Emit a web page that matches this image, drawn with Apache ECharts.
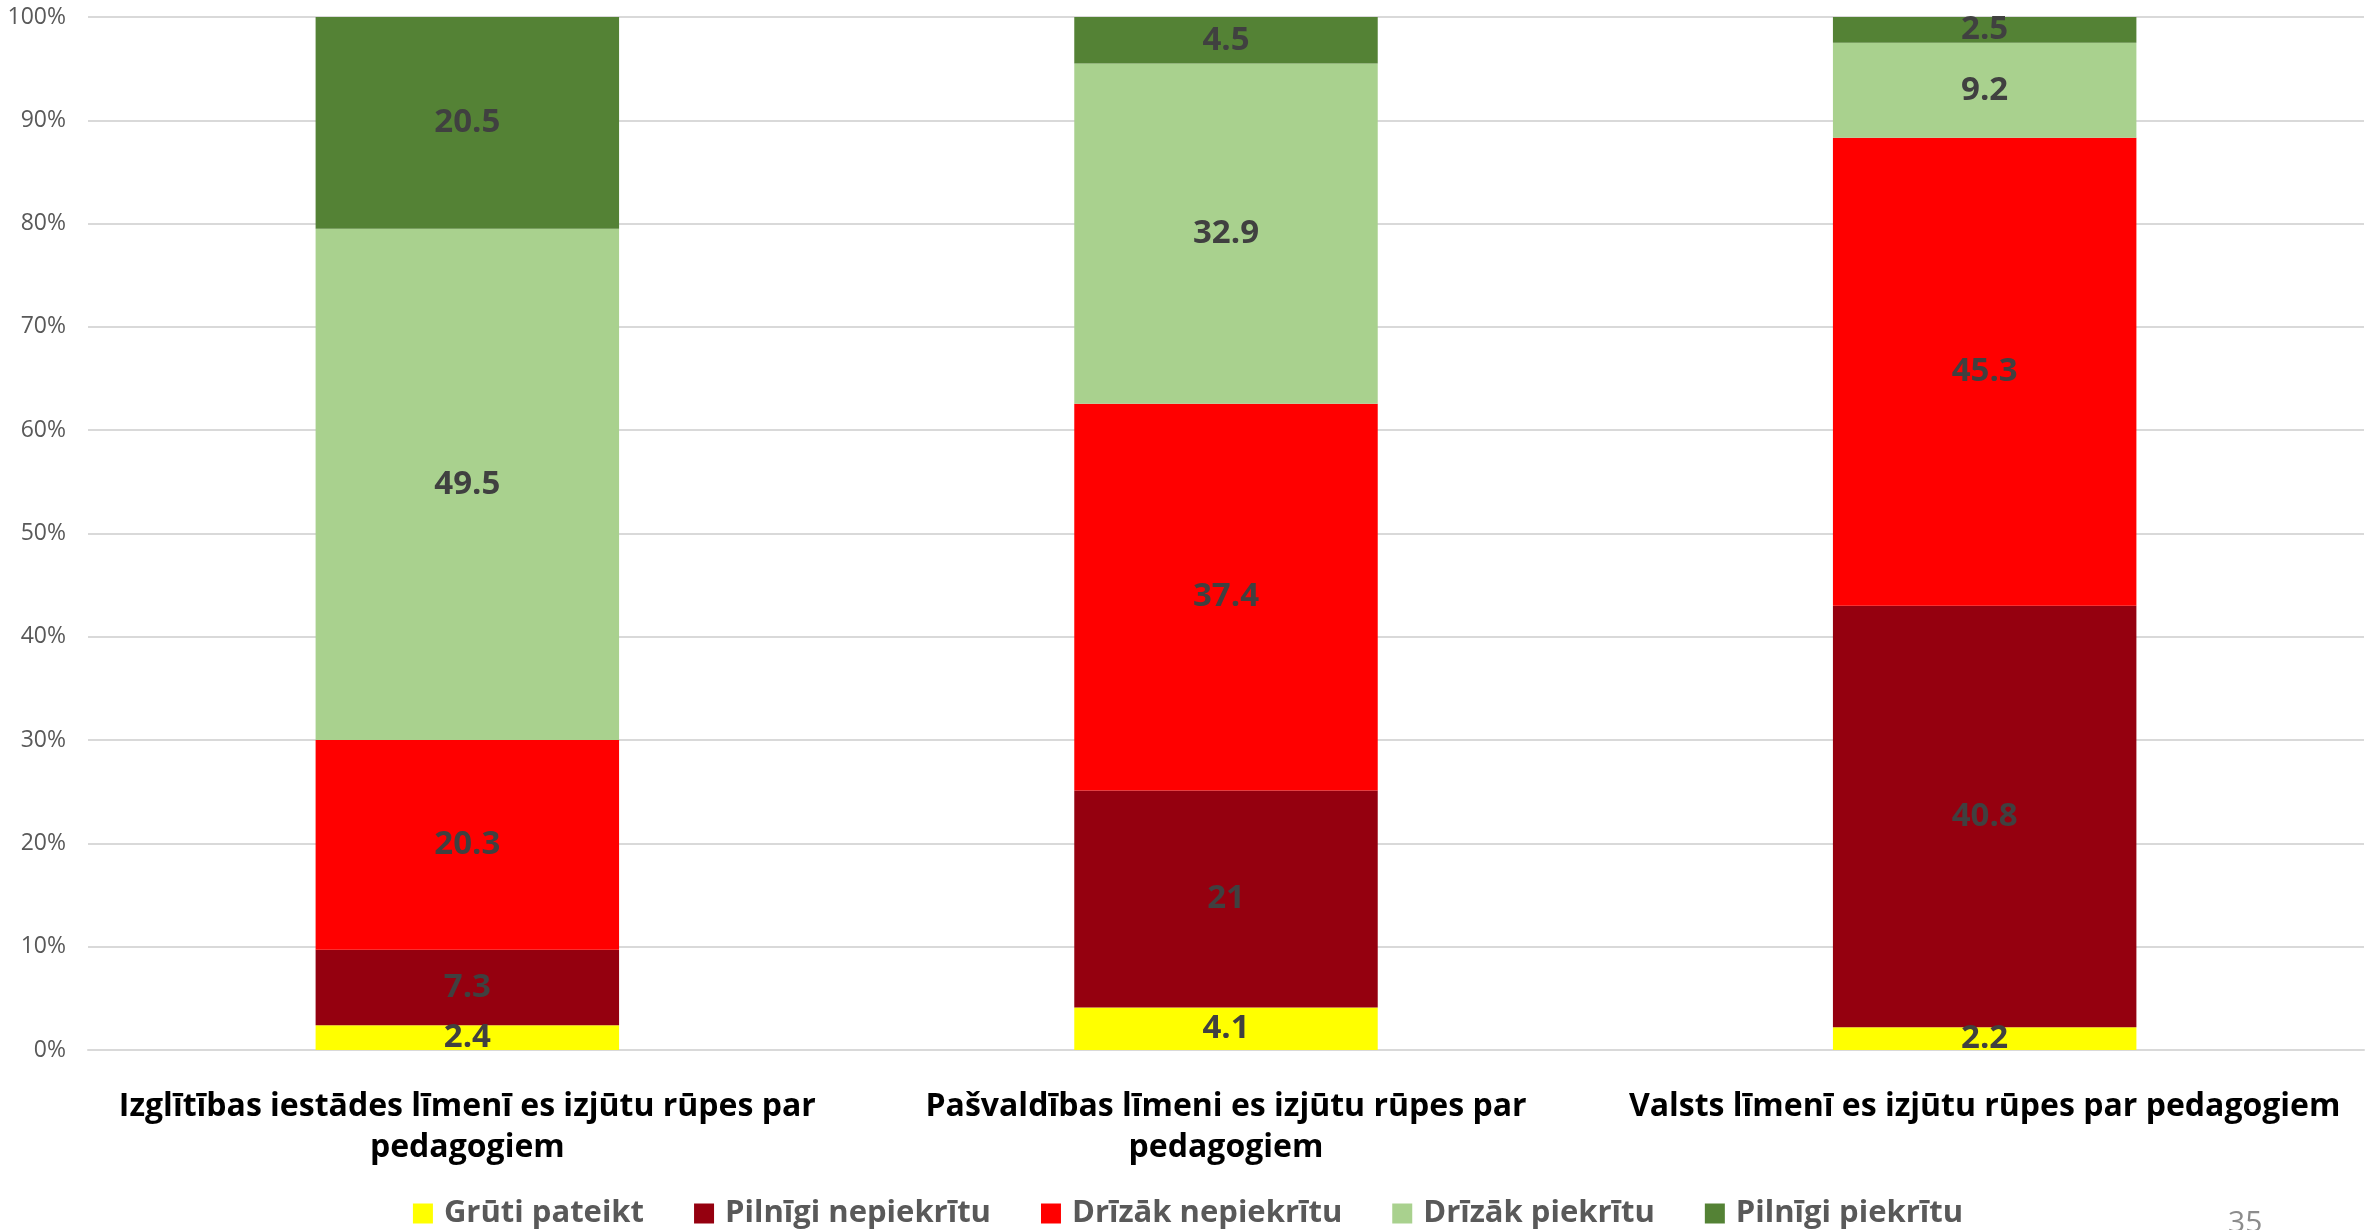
<!DOCTYPE html>
<html>
<head>
<meta charset="utf-8">
<script src="https://cdn.jsdelivr.net/npm/echarts@6/dist/echarts.min.js"></script>
<style>
html,body{margin:0;padding:0;background:#fff;}
#c{width:2376px;height:1230px;}
</style>
</head>
<body>
<div id="c"></div>
<script>
const categories = [
  "Izglītības iestādes līmenī es izjūtu rūpes par pedagogiem",
  "Pašvaldības līmeni es izjūtu rūpes par pedagogiem",
  "Valsts līmenī es izjūtu rūpes par pedagogiem"
];
const seriesNames = ["Grūti pateikt", "Pilnīgi nepiekrītu", "Drīzāk nepiekrītu", "Drīzāk piekrītu", "Pilnīgi piekrītu"];
const gruti = [2.4, 4.1, 2.2];
const pilnigiNepiekritu = [7.3, 21, 40.8];
const drizakNepiekritu = [20.3, 37.4, 45.3];
const drizakPiekritu = [49.5, 32.9, 9.2];
const pilnigiPiekritu = [20.5, 4.5, 2.5];
const yTicks = [0, 10, 20, 30, 40, 50, 60, 70, 80, 90, 100];

const colors = ["#FFFF00", "#95000F", "#FF0000", "#A9D18E", "#548235"];
const allValues = [gruti, pilnigiNepiekritu, drizakNepiekritu, drizakPiekritu, pilnigiPiekritu];
const totals = categories.map((_, i) => allValues.reduce((s, arr) => s + arr[i], 0));

const FONT = "Open Sans";
const CAT_FONT = "bold 32px 'Open Sans'";
const ctx = document.createElement('canvas').getContext('2d');
ctx.font = CAT_FONT;
function wrap(text, maxW) {
  const words = text.split(' ');
  const lines = [];
  let cur = '';
  words.forEach(w => {
    const t = cur ? cur + ' ' + w : w;
    if (cur && ctx.measureText(t).width > maxW) { lines.push(cur); cur = w; }
    else cur = t;
  });
  if (cur) lines.push(cur);
  return lines.join('\n');
}

const chart = echarts.init(document.getElementById('c'));
chart.setOption({
  animation: false,
  grid: {left: 88, right: 12, top: 17, bottom: 180, containLabel: false},
  legend: {
    bottom: -4,
    left: 'center',
    itemWidth: 20, itemHeight: 20, itemGap: 50,
    icon: 'rect',
    textStyle: {fontFamily: FONT, fontWeight: 'bold', fontSize: 31, color: '#595959', padding: [0, 0, 0, 6]},
    data: seriesNames
  },
  xAxis: {
    type: 'category',
    data: categories,
    axisTick: {show: false},
    axisLine: {show: true, lineStyle: {color: '#d9d9d9', width: 2}},
    axisLabel: {
      interval: 0,
      margin: 36,
      lineHeight: 41,
      formatter: v => wrap(v, 740),
      fontFamily: FONT, fontWeight: 'bold', fontSize: 32, color: '#000'
    }
  },
  yAxis: {
    type: 'value',
    min: 0, max: 100, interval: 10,
    axisLine: {show: false},
    axisTick: {show: false},
    splitLine: {lineStyle: {color: '#d9d9d9', width: 2}},
    axisLabel: {formatter: v => yTicks.includes(v) ? v + '%' : '', margin: 22, fontFamily: FONT, fontSize: 23, color: '#595959'}
  },
  series: allValues.map((arr, k) => ({
    name: seriesNames[k],
    type: 'bar',
    stack: 'total',
    barWidth: '40%',
    itemStyle: {color: colors[k]},
    label: {
      show: true,
      position: 'inside',
      formatter: p => String(arr[p.dataIndex]),
      fontFamily: FONT, fontWeight: 'bold', fontSize: 33, color: '#404040'
    },
    data: arr.map((v, i) => v / totals[i] * 100)
  })),
  graphic: [{
    type: 'text', left: 2228, top: 1208,
    style: {text: '35', fontFamily: FONT, fontSize: 30, fill: '#8c8c8c'}
  }]
});
</script>
</body>
</html>
